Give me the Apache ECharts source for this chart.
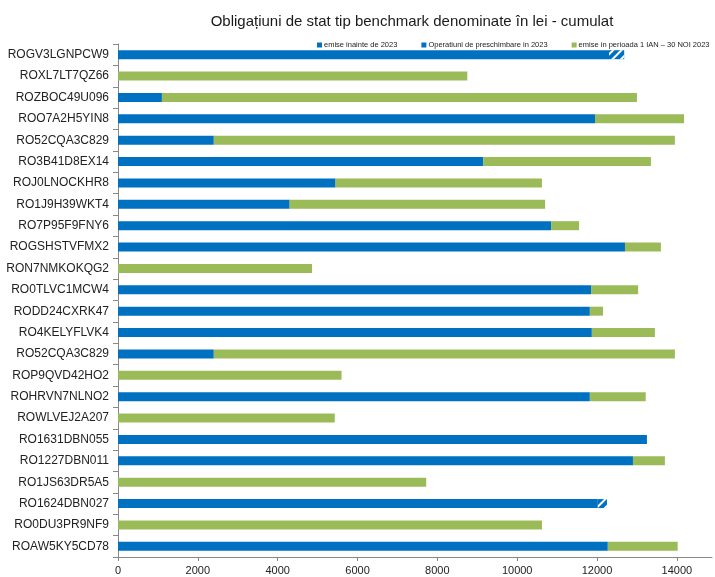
<!DOCTYPE html>
<html>
<head>
<meta charset="utf-8">
<script src="https://cdn.jsdelivr.net/npm/echarts@6/dist/echarts.min.js"></script>
<style>html,body{margin:0;padding:0;background:#fff;}#c{width:715px;height:577px;}</style>
</head>
<body>
<div id="c"></div>
<script>
var categories = ["ROGV3LGNPCW9","ROXL7LT7QZ66","ROZBOC49U096","ROO7A2H5YIN8","RO52CQA3C829","RO3B41D8EX14","ROJ0LNOCKHR8","RO1J9H39WKT4","RO7P95F9FNY6","ROGSHSTVFMX2","RON7NMKOKQG2","RO0TLVC1MCW4","RODD24CXRK47","RO4KELYFLVK4","RO52CQA3C829 ","ROP9QVD42HO2","ROHRVN7NLNO2","ROWLVEJ2A207","RO1631DBN055","RO1227DBN011","RO1JS63DR5A5","RO1624DBN027","RO0DU3PR9NF9","ROAW5KY5CD78"];
var emiseInainte = [12300,0,1100,11950,2400,9150,5450,4300,10850,12700,0,11850,11820,11870,2400,0,11820,0,13250,12900,0,12020,0,12270];
var preschimbare = [380,0,0,0,0,0,0,0,0,0,0,0,0,0,0,0,0,0,0,0,0,230,0,0];
var emisePerioada = [0,8750,11900,2230,11550,4200,5170,6400,700,900,4860,1180,330,1580,11550,5600,1400,5430,0,800,7720,0,10620,1750];
var xTicks = [0,2000,4000,6000,8000,10000,12000,14000];
var seriesNames = ["emise inainte de 2023","Operatiuni de preschimbare in 2023","emise in perioada 1 IAN \u2013 30 NOI 2023"];

var chart = echarts.init(document.getElementById('c'), null, {renderer:'canvas'});
var font = 'Arial, "Liberation Sans", sans-serif';
chart.setOption({
  animation:false,
  backgroundColor:'#fff',
  title:{text:'Obliga\u021biuni de stat tip benchmark denominate \u00een lei - cumulat',left:407,textAlign:'center',top:9,
    textStyle:{fontFamily:font,fontSize:15,fontWeight:'normal',color:'#1a1a1a'}},
  legend:{left:312,top:36,itemWidth:5,itemHeight:5,itemGap:24,icon:'rect',
    textStyle:{fontFamily:font,fontSize:7.5,color:'#222',padding:[0,0,0,-3]},
    data:[{name:seriesNames[0]},{name:seriesNames[1],itemStyle:{color:'#0070C0',decal:'none'}},{name:seriesNames[2]}]},
  grid:{left:118,right:3,top:44,bottom:20,containLabel:false},
  xAxis:{type:'value',min:0,max:14880,interval:2000,
    axisLine:{show:true,lineStyle:{color:'#888'}},
    axisTick:{show:true,length:4,lineStyle:{color:'#888'}},
    splitLine:{show:false},
    axisLabel:{showMaxLabel:false,fontFamily:font,fontSize:11,color:'#222',margin:8,
      formatter:function(v){return xTicks.indexOf(v)>=0?String(v):'';}}},
  yAxis:{type:'category',data:categories,inverse:true,
    axisLine:{show:true,lineStyle:{color:'#888'}},
    axisTick:{show:true,length:5,lineStyle:{color:'#888'}},
    axisLabel:{fontFamily:font,fontSize:12,color:'#222',margin:9,
      formatter:function(v){return v.trim();}}},
  series:[
    {name:seriesNames[0],type:'bar',stack:'a',data:emiseInainte,barWidth:9,itemStyle:{color:'#0070C0'}},
    {name:seriesNames[1],type:'bar',stack:'a',data:preschimbare,barWidth:9,
      itemStyle:{color:'#0070C0',decal:{symbol:'rect',symbolSize:1,color:'#ffffff',dashArrayX:[1,0],dashArrayY:[1.5,4],rotation:-Math.PI/4}}},
    {name:seriesNames[2],type:'bar',stack:'a',data:emisePerioada,barWidth:9,itemStyle:{color:'#9BBB59'}}
  ]
});
</script>
</body>
</html>
